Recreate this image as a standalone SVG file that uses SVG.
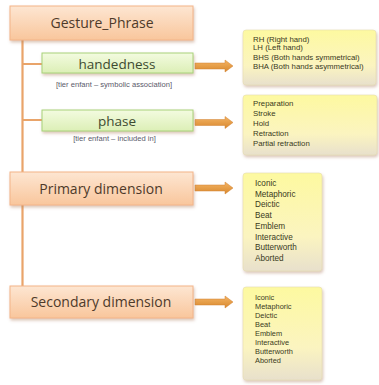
<svg xmlns="http://www.w3.org/2000/svg" width="379" height="385" viewBox="0 0 379 385">
<defs>
<linearGradient id="peach" x1="0" y1="0" x2="0" y2="1">
<stop offset="0" stop-color="#fde6d2"/><stop offset="1" stop-color="#f9c69c"/>
</linearGradient>
<linearGradient id="green" x1="0" y1="0" x2="0" y2="1">
<stop offset="0" stop-color="#f3fbe0"/><stop offset="1" stop-color="#dcefb6"/>
</linearGradient>
<linearGradient id="yel" x1="0" y1="0" x2="0" y2="1">
<stop offset="0" stop-color="#fdf9a0"/><stop offset="0.65" stop-color="#fbf4c0"/><stop offset="1" stop-color="#e8e0cc"/>
</linearGradient>
<linearGradient id="arr" x1="0" y1="0" x2="0" y2="1">
<stop offset="0" stop-color="#f4b464"/><stop offset="1" stop-color="#d8882e"/>
</linearGradient>
<filter id="sh" x="-10%" y="-10%" width="130%" height="140%">
<feDropShadow dx="1" dy="2" stdDeviation="1.5" flood-color="#b08060" flood-opacity="0.45"/>
</filter>
</defs>
<style>
.main{fill:url(#peach);stroke:#f3b488;stroke-width:1;filter:url(#sh)}
.mt{font-family:"Open Sans","Liberation Sans",sans-serif;font-size:14px;fill:#4e3a2a;text-anchor:middle}
.sub{fill:url(#green);stroke:#a8d27a;stroke-width:1;filter:url(#sh)}
.st{font-family:"Open Sans","Liberation Sans",sans-serif;font-size:13.5px;fill:#3d4a30;text-anchor:middle}
.cap{font-family:"Liberation Sans",sans-serif;font-size:7.6px;fill:#5a5a6a;text-anchor:middle}
.note{fill:url(#yel);stroke:#e6dcb0;stroke-width:0.6;filter:url(#sh)}
.nt{font-family:"Liberation Sans",sans-serif;font-size:7.8px;fill:#3a3a1c}
.nt2{font-family:"Liberation Sans",sans-serif;font-size:8.2px;fill:#3a3a1c}
.nt3{font-family:"Liberation Sans",sans-serif;font-size:7.4px;fill:#3a3a1c}
.tree{stroke:#e9a46a;stroke-width:2.2;fill:none}
.ar{fill:url(#arr);stroke:#d08030;stroke-width:0.5}
</style>
<g id="connectors">
<path class="tree" d="M22.5 40 V172 M22.5 205 V286 M22.5 64 H42 M22.5 120 H42"/>
<path class="ar" d="M195 63 H225 V60 L233 66 L225 72 V69 H195 Z"/>
<path class="ar" d="M195 119.5 H225 V116.5 L233 122.5 L225 128.5 V125.5 H195 Z"/>
<path class="ar" d="M195 185 H225 V182 L233 188 L225 194 V191 H195 Z"/>
<path class="ar" d="M195 299 H225 V296 L233 302 L225 308 V305 H195 Z"/>
</g>
<g id="gesture_phrase">
<rect class="main" x="10" y="6" width="183" height="34"/>
<text class="mt" x="102" y="28">Gesture_Phrase</text>
</g>
<g id="handedness">
<rect class="sub" x="42" y="53" width="151" height="20"/>
<text class="st" x="117" y="68.5">handedness</text>
<text class="cap" x="114" y="87">[tier enfant – symbolic association]</text>
</g>
<g id="phase">
<rect class="sub" x="42" y="110" width="151" height="21"/>
<text class="st" x="117" y="125.5">phase</text>
<text class="cap" x="114.5" y="141">[tier enfant – included in]</text>
</g>
<g id="primary_dimension">
<rect class="main" x="10" y="172" width="183" height="33"/>
<text class="mt" x="101" y="193.5">Primary dimension</text>
</g>
<g id="secondary_dimension">
<rect class="main" x="10" y="286" width="183" height="32"/>
<text class="mt" x="101" y="307">Secondary dimension</text>
</g>
<g id="handedness_values">
<rect class="note" x="243" y="30" width="133" height="55" rx="3"/>
<text class="nt" x="253" y="41.5">RH (Right hand)</text>
<text class="nt" x="253" y="50">LH (Left hand)</text>
<text class="nt" x="253" y="59.5">BHS (Both hands symmetrical)</text>
<text class="nt" x="253" y="69">BHA (Both hands asymmetrical)</text>
</g>
<g id="phase_values">
<rect class="note" x="243" y="95" width="134" height="60" rx="3"/>
<text class="nt" x="253" y="105.5">Preparation</text>
<text class="nt" x="253" y="116">Stroke</text>
<text class="nt" x="253" y="126">Hold</text>
<text class="nt" x="253" y="136">Retraction</text>
<text class="nt" x="253" y="146">Partial retraction</text>
</g>
<g id="primary_values">
<rect class="note" x="243" y="173" width="79" height="98" rx="3"/>
<text class="nt2" x="255" y="186">Iconic</text>
<text class="nt2" x="255" y="196.7">Metaphoric</text>
<text class="nt2" x="255" y="207.4">Deictic</text>
<text class="nt2" x="255" y="218.1">Beat</text>
<text class="nt2" x="255" y="228.8">Emblem</text>
<text class="nt2" x="255" y="239.5">Interactive</text>
<text class="nt2" x="255" y="250.2">Butterworth</text>
<text class="nt2" x="255" y="260.9">Aborted</text>
</g>
<g id="secondary_values">
<rect class="note" x="243" y="287" width="79" height="93" rx="3"/>
<text class="nt3" x="255" y="300">Iconic</text>
<text class="nt3" x="255" y="309">Metaphoric</text>
<text class="nt3" x="255" y="318">Deictic</text>
<text class="nt3" x="255" y="327">Beat</text>
<text class="nt3" x="255" y="336">Emblem</text>
<text class="nt3" x="255" y="345">Interactive</text>
<text class="nt3" x="255" y="354">Butterworth</text>
<text class="nt3" x="255" y="363">Aborted</text>
</g>
</svg>
